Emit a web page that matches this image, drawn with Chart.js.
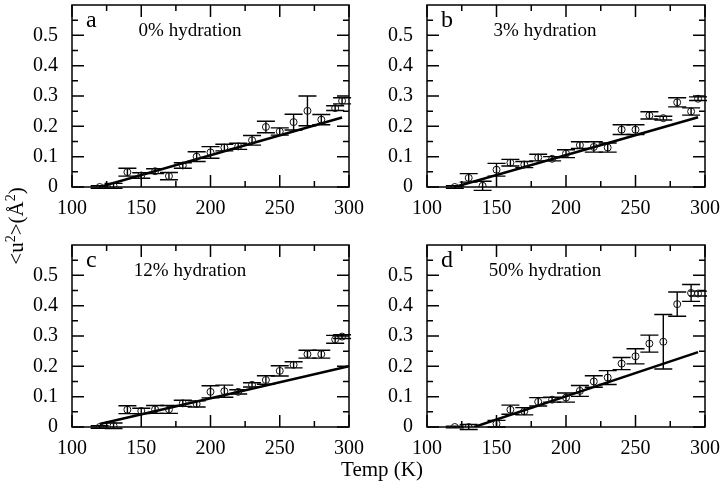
<!DOCTYPE html>
<html>
<head>
<meta charset="utf-8">
<script src="https://cdn.jsdelivr.net/npm/chart.js@4.4.0/dist/chart.umd.min.js"></script>
<style>
  body { margin: 0; background: #fff; width: 720px; height: 485px; position: relative; overflow: hidden; font-family: "Liberation Serif", serif; }
  .panel { position: absolute; }
  .xtitle { position: absolute; left: 332px; top: 457px; width: 100px; text-align: center; font-size: 21px; color: #000; }
  .ytitle { position: absolute; left: -34px; top: 213px; width: 100px; text-align: center; font-size: 21px; color: #000; transform: rotate(-90deg); white-space: nowrap; }
  .ytitle sup { font-size: 14px; }
</style>
</head>
<body>
<div class="panel" style="left:0;top:0;width:375px;height:222px"><canvas id="panel-a"></canvas></div>
<div class="panel" style="left:355px;top:0;width:365px;height:222px"><canvas id="panel-b"></canvas></div>
<div class="panel" style="left:0;top:240px;width:375px;height:222px"><canvas id="panel-c"></canvas></div>
<div class="panel" style="left:355px;top:240px;width:365px;height:222px"><canvas id="panel-d"></canvas></div>
<div class="ytitle">&lt;u<sup>2</sup>&gt;(Å<sup>2</sup>)</div>
<div class="xtitle">Temp (K)</div>

<script>
// Mean square displacement vs temperature, four hydration levels

const temps = [120, 130, 140, 150, 160, 170, 180, 190, 200, 210, 220, 230, 240, 250, 260, 270, 280, 290, 295];

const msdA = [0.0, 0.004, 0.049, 0.038, 0.052, 0.036, 0.071, 0.100, 0.114, 0.130, 0.134, 0.154, 0.198, 0.183, 0.214, 0.251, 0.222, 0.260, 0.284];
const errA = [0.004, 0.008, 0.013, 0.009, 0.008, 0.012, 0.009, 0.016, 0.019, 0.011, 0.010, 0.016, 0.019, 0.012, 0.026, 0.049, 0.017, 0.008, 0.010];

const msdB = [0.0, 0.030, 0.004, 0.057, 0.080, 0.074, 0.097, 0.093, 0.110, 0.138, 0.132, 0.130, 0.189, 0.189, 0.236, 0.227, 0.279, 0.249, 0.291];
const errB = [0.004, 0.014, 0.015, 0.021, 0.011, 0.010, 0.011, 0.007, 0.013, 0.011, 0.017, 0.015, 0.016, 0.016, 0.012, 0.006, 0.015, 0.012, 0.006];

const msdC = [0.0, 0.004, 0.057, 0.053, 0.058, 0.058, 0.078, 0.076, 0.116, 0.118, 0.116, 0.139, 0.155, 0.185, 0.205, 0.240, 0.240, 0.289, 0.298];
const errC = [0.004, 0.009, 0.013, 0.009, 0.013, 0.013, 0.010, 0.010, 0.020, 0.020, 0.007, 0.007, 0.014, 0.017, 0.010, 0.013, 0.013, 0.013, 0.006];

const msdD = [0.0, 0.0, null, 0.011, 0.057, 0.052, 0.083, 0.090, 0.097, 0.119, 0.150, 0.163, 0.209, 0.233, 0.275, 0.281, 0.405, 0.442, 0.440];
const errD = [0.003, 0.008, null, 0.011, 0.015, 0.012, 0.014, 0.008, 0.015, 0.018, 0.019, 0.023, 0.020, 0.025, 0.028, 0.090, 0.040, 0.028, 0.008];

// linear fits (end points)
const fitA = [[120, 0.0], [295, 0.229]];
const fitB = [[120, 0.0], [295, 0.230]];
const fitC = [[120, 0.010], [300, 0.200]];
const fitD = [[134, 0.0], [295, 0.247]];

const xTicks = [100, 150, 200, 250, 300];
const yTicks = [0, 0.1, 0.2, 0.3, 0.4, 0.5];

Chart.defaults.font.family = '"Liberation Serif", serif';
Chart.defaults.font.size = 20;
Chart.defaults.color = '#000';

// error bars under the points
const errorBars = {
    id: 'errorBars',
    beforeDatasetsDraw(chart) {
        const ctx = chart.ctx;
        const y = chart.scales.y;
        chart.data.datasets.forEach((ds, i) => {
            if (!ds.errs) return;
            const meta = chart.getDatasetMeta(i);
            ctx.save();
            ctx.strokeStyle = '#000';
            ctx.lineWidth = 1.4;
            meta.data.forEach((pt, j) => {
                const e = ds.errs[j];
                const v = ds.data[j].y;
                if (e == null || v == null) return;
                const top = y.getPixelForValue(v + e);
                const bot = y.getPixelForValue(v - e);
                ctx.beginPath();
                ctx.moveTo(pt.x, top); ctx.lineTo(pt.x, bot);
                ctx.moveTo(pt.x - 9, top); ctx.lineTo(pt.x + 9, top);
                ctx.moveTo(pt.x - 9, bot); ctx.lineTo(pt.x + 9, bot);
                ctx.stroke();
            });
            ctx.restore();
        });
    }
};

// frame with inward ticks on all four sides, plus panel captions
const frameTicks = {
    id: 'frameTicks',
    afterDraw(chart, args, opts) {
        const { ctx, chartArea: a, scales: { x, y } } = chart;
        ctx.save();
        ctx.strokeStyle = '#000';
        ctx.lineWidth = 1.5;
        ctx.strokeRect(a.left, a.top, a.right - a.left, a.bottom - a.top);
        ctx.beginPath();
        xTicks.forEach((v, i) => {
            const px = x.getPixelForValue(v);
            ctx.moveTo(px, a.bottom); ctx.lineTo(px, a.bottom - 12);
            ctx.moveTo(px, a.top); ctx.lineTo(px, a.top + 12);
            if (i < xTicks.length - 1) {
                const mx = x.getPixelForValue((v + xTicks[i + 1]) / 2);
                ctx.moveTo(mx, a.bottom); ctx.lineTo(mx, a.bottom - 6);
                ctx.moveTo(mx, a.top); ctx.lineTo(mx, a.top + 6);
            }
        });
        yTicks.forEach((v) => {
            const py = y.getPixelForValue(v);
            ctx.moveTo(a.left, py); ctx.lineTo(a.left + 12, py);
            ctx.moveTo(a.right, py); ctx.lineTo(a.right - 12, py);
            const my = y.getPixelForValue(v + 0.05);
            ctx.moveTo(a.left, my); ctx.lineTo(a.left + 6, my);
            ctx.moveTo(a.right, my); ctx.lineTo(a.right - 6, my);
        });
        ctx.stroke();

        ctx.fillStyle = '#000';
        ctx.textBaseline = 'alphabetic';
        ctx.textAlign = 'left';
        ctx.font = '24px "Liberation Serif", serif';
        ctx.fillText(opts.letter, a.left + 14, a.top + 22);
        ctx.font = '19px "Liberation Serif", serif';
        ctx.textAlign = 'center';
        ctx.fillText(opts.caption, a.left + 118, a.top + 31);
        ctx.restore();
    }
};

function initPanel(id, values, errs, fit, letter, caption, padTop, padRight) {
    const ctx = document.getElementById(id);
    if (!ctx) return;

    new Chart(ctx, {
        type: 'scatter',
        data: {
            datasets: [
                {
                    label: caption,
                    data: temps.map((t, i) => ({ x: t, y: values[i] })),
                    errs: errs,
                    showLine: false,
                    pointRadius: 3.5,
                    pointBorderWidth: 1,
                    pointBorderColor: '#111',
                    pointBackgroundColor: 'rgba(0,0,0,0)'
                },
                {
                    label: 'fit',
                    data: fit.map(p => ({ x: p[0], y: p[1] })),
                    showLine: true,
                    borderColor: '#000',
                    borderWidth: 2.5,
                    pointRadius: 0
                }
            ]
        },
        options: {
            responsive: true,
            maintainAspectRatio: false,
            animation: false,
            layout: { padding: { top: padTop, right: padRight, left: 0, bottom: 0 } },
            scales: {
                x: {
                    type: 'linear',
                    min: 100,
                    max: 300,
                    grid: { display: false },
                    border: { display: false },
                    afterBuildTicks: (s) => { s.ticks = xTicks.map(v => ({ value: v })); },
                    afterFit: (s) => { s.height = 35; s.paddingLeft = 0; s.paddingRight = 0; },
                    ticks: { padding: 2, maxRotation: 0 }
                },
                y: {
                    min: 0,
                    max: 0.6,
                    grid: { display: false },
                    border: { display: false },
                    afterBuildTicks: (s) => { s.ticks = yTicks.map(v => ({ value: v })); },
                    afterFit: (s) => { s.width = 72; s.paddingTop = 0; s.paddingBottom = 0; },
                    ticks: {
                        padding: 6,
                        callback: (v) => v === 0 ? '0' : v.toFixed(1)
                    }
                }
            },
            plugins: {
                legend: { display: false },
                tooltip: { enabled: false },
                frameTicks: { letter: letter, caption: caption }
            }
        },
        plugins: [errorBars, frameTicks]
    });
}

initPanel('panel-a', msdA, errA, fitA, 'a', '0% hydration', 2, 26);
initPanel('panel-b', msdB, errB, fitB, 'b', '3% hydration', 2, 15);
initPanel('panel-c', msdC, errC, fitC, 'c', '12% hydration', 3, 26);
initPanel('panel-d', msdD, errD, fitD, 'd', '50% hydration', 3, 15);
</script>
</body>
</html>
